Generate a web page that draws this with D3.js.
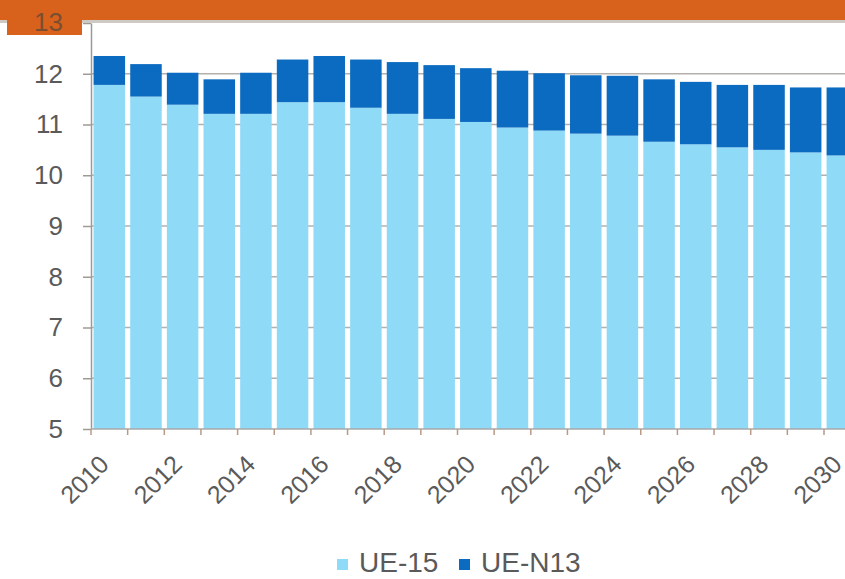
<!DOCTYPE html>
<html>
<head>
<meta charset="utf-8">
<script src="https://cdn.jsdelivr.net/npm/d3@7"></script>
<style>
  body { margin: 0; background: #fff; }
  svg { display: block; font-family: "Liberation Sans", Arial, sans-serif; }
</style>
</head>
<body>
<script>
// data
let years = ['2010','2011','2012','2013','2014','2015','2016','2017','2018','2019','2020',
             '2021','2022','2023','2024','2025','2026','2027','2028','2029','2030'];
let ue15 = [11.78,11.55,11.39,11.21,11.21,11.44,11.44,11.33,11.21,11.11,11.05,
            10.94,10.88,10.82,10.78,10.66,10.61,10.55,10.50,10.45,10.39];
let uen13 = [0.57,0.64,0.63,0.68,0.81,0.84,0.91,0.95,1.02,1.06,1.06,
             1.12,1.13,1.15,1.18,1.23,1.23,1.23,1.28,1.28,1.34];
let yTicks = [5,6,7,8,9,10,11,12,13];
let seriesNames = ['UE-15','UE-N13'];
let colors = ['#8fdbf7','#0b6bc0'];

let w = 845, h = 579;
let padLeft = 91, padBottom = 429, padTop = 23;
let step = 36.65;

let svg = d3.select('body').append('svg')
    .attr('width', w)
    .attr('height', h);

let x = d3.scaleBand()
    .domain(years)
    .range([padLeft, padLeft + years.length * step])
    .paddingInner(0.14)
    .paddingOuter(0.07);

let y = d3.scaleLinear()
    .domain([5, 13])
    .range([padBottom, padTop])
    .clamp(true);

let rows = years.map((yr, i) => ({year: yr, 'UE-15': ue15[i], 'UE-N13': uen13[i]}));
let stacked = d3.stack().keys(seriesNames)(rows);

// gridlines
svg.append('g')
    .selectAll('line')
    .data(yTicks.slice(1, -1))
    .enter()
    .append('line')
    .attr('x1', padLeft).attr('x2', w)
    .attr('y1', d => y(d)).attr('y2', d => y(d))
    .attr('stroke', '#b4b0ac')
    .attr('stroke-width', 1.3);

// bars
svg.append('g')
    .selectAll('g')
    .data(stacked)
    .enter()
    .append('g')
    .attr('fill', (d, i) => colors[i])
    .selectAll('rect')
    .data(d => d)
    .enter()
    .append('rect')
    .attr('x', d => x(d.data.year))
    .attr('width', x.bandwidth())
    .attr('y', d => y(d[1]))
    .attr('height', d => y(d[0]) - y(d[1]));

// y axis
let yAxis = svg.append('g')
    .attr('transform', `translate(${padLeft},0)`)
    .call(d3.axisLeft(y).tickValues(yTicks).tickSize(8).tickPadding(20).tickSizeOuter(0));
yAxis.select('.domain').attr('stroke', '#9a9a9a').attr('stroke-width', 1.5);
yAxis.selectAll('.tick line').attr('stroke', '#a09a94').attr('stroke-width', 1.5);
yAxis.selectAll('.tick text')
    .attr('fill', '#5a5a5a')
    .style('font-size', '26px');

// x axis: baseline, ticks at band edges, labels every other year
svg.append('line')
    .attr('x1', padLeft).attr('x2', w)
    .attr('y1', padBottom).attr('y2', padBottom)
    .attr('stroke', '#a8a8a8')
    .attr('stroke-width', 1.5);

svg.append('g')
    .selectAll('line')
    .data(years)
    .enter()
    .append('line')
    .attr('x1', d => x(d) - x.step() * x.paddingInner() / 2)
    .attr('x2', d => x(d) - x.step() * x.paddingInner() / 2)
    .attr('y1', padBottom).attr('y2', padBottom + 6)
    .attr('stroke', '#b89a86')
    .attr('stroke-width', 1.5);

svg.append('g')
    .selectAll('text')
    .data(years.filter((d, i) => i % 2 === 0))
    .enter()
    .append('text')
    .attr('transform', d => `translate(${x(d) + x.bandwidth() / 2 + 1},${padBottom + 37}) rotate(-45)`)
    .attr('text-anchor', 'end')
    .attr('fill', '#5a5a5a')
    .style('font-size', '25px')
    .text(d => d);

// orange header band (title cropped off above)
svg.append('rect')
    .attr('x', 0).attr('y', 20)
    .attr('width', w).attr('height', 3)
    .attr('fill', '#cfc9c4');
svg.append('rect')
    .attr('x', 0).attr('y', 0)
    .attr('width', w).attr('height', 20)
    .attr('fill', '#d8621b');
svg.append('rect')
    .attr('x', 7).attr('y', 0)
    .attr('width', 75).attr('height', 35)
    .attr('fill', '#d8621b');
svg.append('text')
    .attr('x', padLeft - 28).attr('y', y(13))
    .attr('dy', '0.32em')
    .attr('text-anchor', 'end')
    .attr('fill', '#7a4e30')
    .style('font-size', '26px')
    .text('13');

// legend
let legend = svg.append('g');
let legendX = [337, 459];
seriesNames.forEach((name, i) => {
    legend.append('rect')
        .attr('x', legendX[i]).attr('y', 559)
        .attr('width', 11).attr('height', 11)
        .attr('fill', colors[i]);
    legend.append('text')
        .attr('x', legendX[i] + 22).attr('y', 572)
        .attr('fill', '#5a5a5a')
        .style('font-size', '28px')
        .text(name);
});
</script>
</body>
</html>
